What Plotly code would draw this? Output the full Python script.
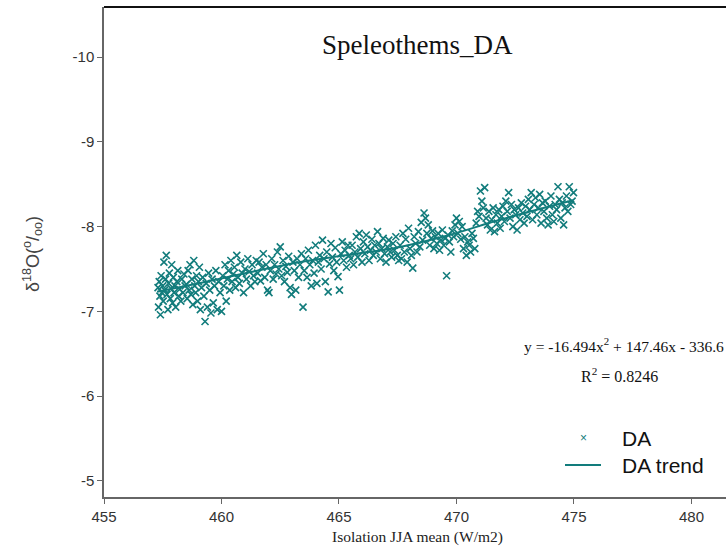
import plotly.graph_objects as go

# ---- data ----
da_x = [
    457.30, 457.32, 457.35, 457.38, 457.40, 457.43, 457.46, 457.50, 457.52, 457.55,
    457.58, 457.62, 457.65, 457.68, 457.72, 457.75, 457.78, 457.82, 457.85, 457.88,
    457.92, 457.95, 457.98, 458.02, 458.05, 458.10, 458.14, 458.18, 458.22, 458.27,
    458.31, 458.36, 458.40, 458.45,
    458.50, 458.54, 458.58, 458.62, 458.66, 458.70, 458.74, 458.78, 458.82, 458.86,
    458.90, 458.94, 458.98, 459.02, 459.06, 459.10, 459.15, 459.20, 459.25, 459.30,
    459.35, 459.40, 459.45, 459.50, 459.55, 459.60, 459.65, 459.70, 459.76, 459.82,
    459.88, 459.94,
    460.00, 460.05, 460.10, 460.15, 460.20, 460.25, 460.30, 460.35, 460.40, 460.45,
    460.50, 460.55, 460.60, 460.65, 460.70, 460.76, 460.82, 460.88, 460.94, 461.00,
    461.06, 461.12, 461.18, 461.24, 461.30, 461.36, 461.42, 461.48,
    461.54, 461.60, 461.66, 461.72, 461.78, 461.84, 461.90, 461.96, 462.02, 462.08,
    462.14, 462.20, 462.26, 462.32, 462.38, 462.44, 462.50, 462.56, 462.62, 462.68,
    462.74, 462.80, 462.86, 462.92, 462.98, 463.04, 463.10, 463.16, 463.22, 463.28,
    463.34, 463.40, 463.47, 463.52, 463.58, 463.64, 463.70, 463.76, 463.82, 463.88,
    463.94, 464.00, 464.06, 464.12, 464.18, 464.24, 464.30, 464.36, 464.42, 464.48,
    464.54, 464.60, 464.66, 464.72, 464.78, 464.84, 464.90, 464.96, 465.02, 465.08,
    465.14, 465.20, 465.26, 465.32, 465.38, 465.44,
    465.50, 465.56, 465.62, 465.68, 465.74, 465.80, 465.86, 465.92, 465.98, 466.04,
    466.10, 466.16, 466.22, 466.28, 466.34, 466.40, 466.46, 466.52, 466.58, 466.64,
    466.70, 466.76, 466.82, 466.88, 466.94, 467.00, 467.06, 467.12, 467.18, 467.24,
    467.30, 467.36, 467.42, 467.48, 467.54,
    467.60, 467.66, 467.72, 467.78, 467.84, 467.90, 467.96, 468.02, 468.08, 468.14,
    468.20, 468.26, 468.32, 468.38, 468.44, 468.50, 468.56, 468.62, 468.68, 468.74,
    468.80, 468.86, 468.92, 468.98, 469.04, 469.10, 469.16, 469.22, 469.28, 469.34,
    469.40, 469.46, 469.52, 469.58, 469.64,
    469.70, 469.76, 469.82, 469.88, 469.94, 470.00, 470.06, 470.12, 470.18, 470.24,
    470.30, 470.36, 470.42, 470.48, 470.54, 470.60, 470.66, 470.72, 470.78, 470.84,
    470.90, 470.96, 471.02, 471.08, 471.14, 471.20, 471.26, 471.32, 471.38, 471.44,
    471.50, 471.56, 471.62, 471.68, 471.74, 471.80, 471.86,
    471.92, 471.98, 472.04, 472.10, 472.16, 472.22, 472.28, 472.34, 472.40, 472.46,
    472.52, 472.58, 472.64, 472.70, 472.76, 472.82, 472.88, 472.94, 473.00, 473.06,
    473.12, 473.18, 473.24, 473.30, 473.36, 473.42, 473.48, 473.54, 473.60, 473.66,
    473.72, 473.78, 473.84, 473.90, 473.96, 474.02, 474.08, 474.14, 474.20, 474.26,
    474.32, 474.38, 474.44, 474.50, 474.56, 474.62, 474.68, 474.74, 474.80, 474.86,
    474.92, 474.98,
]

da_y = [
    -7.28, -7.05, -7.35, -7.18, -6.96, -7.42, -7.22, -7.30, -7.12, -7.58,
    -7.25, -7.38, -7.66, -7.20, -7.02, -7.33, -7.45, -7.15, -7.27, -7.55,
    -7.10, -7.40, -7.22, -7.30, -7.05, -7.35, -7.48, -7.18, -7.26, -7.12,
    -7.38, -7.22, -7.44, -7.30,
    -7.32, -7.15, -7.48, -7.25, -7.55, -7.20, -7.38, -7.08, -7.60, -7.30,
    -7.22, -7.42, -7.12, -7.35, -7.52, -7.02, -7.28, -7.40, -7.18, -6.88,
    -7.33, -7.05, -7.45, -7.25, -6.98, -7.38, -7.10, -7.30, -7.48, -7.02,
    -7.35, -7.22,
    -7.00, -7.42, -7.30, -7.55, -7.12, -7.38, -7.48, -7.25, -7.60, -7.35,
    -7.44, -7.52, -7.28, -7.66, -7.40, -7.33, -7.58, -7.45, -7.22, -7.50,
    -7.38, -7.62, -7.47, -7.30, -7.55, -7.42, -7.35, -7.60,
    -7.45, -7.58, -7.36, -7.52, -7.68, -7.40, -7.55, -7.25, -7.22, -7.48,
    -7.62, -7.38, -7.55, -7.44, -7.70, -7.50, -7.76, -7.42, -7.60, -7.35,
    -7.53, -7.46, -7.65, -7.28, -7.20, -7.58, -7.48, -7.25, -7.62, -7.40,
    -7.55, -7.68, -7.05, -7.48, -7.62, -7.40, -7.72, -7.55, -7.30, -7.60,
    -7.45, -7.78, -7.33, -7.58, -7.66, -7.50, -7.84, -7.62, -7.35, -7.70,
    -7.23, -7.56, -7.80, -7.64, -7.48, -7.75, -7.58, -7.41, -7.25, -7.68,
    -7.82, -7.60, -7.72, -7.52, -7.78, -7.66,
    -7.62, -7.78, -7.55, -7.70, -7.88, -7.64, -7.92, -7.74, -7.58, -7.82,
    -7.68, -7.90, -7.76, -7.60, -7.72, -7.85, -7.66, -7.78, -7.70, -7.94,
    -7.80, -7.62, -7.74, -7.86, -7.68, -7.58, -7.76, -7.84, -7.70, -7.64,
    -7.80, -7.72, -7.88, -7.66, -7.60,
    -7.78, -7.62, -7.92, -7.70, -7.85, -7.58, -7.98, -7.74, -7.66, -7.51,
    -7.88, -7.80, -7.70, -7.94, -7.76, -8.05, -7.84, -8.16, -8.10, -7.92,
    -8.02, -7.78, -7.86, -7.95, -7.74, -7.88, -7.80, -7.92, -7.72, -7.84,
    -7.96, -7.78, -7.86, -7.42, -7.90,
    -7.82, -7.70, -7.95, -7.88, -8.02, -8.10, -7.92, -8.06, -7.85, -8.00,
    -7.74, -7.88, -7.66, -7.82, -7.78, -7.70, -7.92, -7.86, -7.74, -8.04,
    -8.18, -8.12, -8.42, -8.30, -8.22, -8.46, -8.10, -8.02, -8.18, -7.96,
    -8.08, -8.22, -7.94, -8.14, -8.04, -8.20, -7.98,
    -8.12, -8.24, -8.06, -8.30, -8.18, -8.40, -8.10, -8.26, -8.00, -8.20,
    -8.14, -7.96, -8.22, -8.08, -8.28, -8.16, -8.04, -8.24, -8.12, -8.32,
    -8.20, -8.40, -8.08, -8.26, -8.34, -8.14, -8.22, -8.38, -8.04, -8.28,
    -8.18, -8.30, -8.10, -8.02, -8.24, -8.36, -8.14, -8.06, -8.26, -8.20,
    -8.47, -8.32, -8.10, -8.28, -8.02, -8.22, -8.36, -8.18, -8.47, -8.26,
    -8.30, -8.40,
]

trend_x = [457.26, 459.2, 461.2, 463.3, 465.5, 467.6, 469.7, 471.85, 474.96]
trend_y = [-7.23, -7.34, -7.46, -7.58, -7.67, -7.76, -7.90, -8.08, -8.31]

x_ticks = [455, 460, 465, 470, 475, 480]
y_ticks = [-10, -9, -8, -7, -6, -5]
y_tick_text = ["-10", "-9", "-8", "-7", "-6", "-5"]

title_text = "Speleothems_DA"
x_title = "Isolation JJA mean (W/m2)"
y_title = "δ<sup>18</sup>O(<sup>o</sup>/<sub>oo</sub>)"
eq_text = "y = -16.494x<sup>2</sup> + 147.46x - 336.6"
r2_text = "R<sup>2</sup> = 0.8246"
legend_names = ["DA", "DA trend"]

teal = "#127c7c"
sans = "Liberation Sans, Arial, sans-serif"
serif = "Liberation Serif, Times New Roman, serif"

# plot area in pixels: x 104..726, y 7..497
PL, PR, PT, PB = 104, 726, 7, 497
def px(xp):
    return (xp - PL) / (PR - PL)
def py(yp):
    return (PB - yp) / (PB - PT)

fig = go.Figure()
fig.add_trace(go.Scatter(
    x=da_x, y=da_y, mode="markers", name=legend_names[0], showlegend=False,
    marker=dict(symbol="x-thin", size=7, line=dict(width=1.6, color=teal), color=teal),
))
fig.add_trace(go.Scatter(
    x=trend_x, y=trend_y, mode="lines", name=legend_names[1], showlegend=False,
    line=dict(color=teal, width=2, shape="spline"),
))

axis_common = dict(showgrid=False, zeroline=False, showline=True, linecolor="#666",
                   linewidth=1.5, ticks="outside", ticklen=5, tickcolor="#666",
                   tickfont=dict(family=sans, size=15, color="#333"))

fig.update_layout(
    width=726, height=548,
    margin=dict(l=PL, r=0, t=PT, b=548 - PB),
    paper_bgcolor="white", plot_bgcolor="white",
    showlegend=False,
    xaxis=dict(range=[455, 481.47], tickvals=x_ticks, **axis_common),
    yaxis=dict(range=[-4.81, -10.59], tickvals=y_ticks, ticktext=y_tick_text, **axis_common),
    shapes=[
        dict(type="line", xref="paper", yref="paper", x0=0, x1=1.0, y0=1, y1=1,
             line=dict(color="#111", width=2)),
        # legend line sample
        dict(type="line", xref="paper", yref="paper", x0=px(565), x1=px(601),
             y0=py(465), y1=py(465), line=dict(color=teal, width=2)),
    ],
    annotations=[
        dict(text=title_text, x=px(418), y=py(45), xref="paper", yref="paper",
             xanchor="center", yanchor="middle",
             showarrow=False, font=dict(family=serif, size=27, color="#111")),
        dict(text=x_title, x=px(418), y=py(537), xref="paper", yref="paper",
             xanchor="center", yanchor="middle",
             showarrow=False, font=dict(family=serif, size=15.5, color="#222")),
        dict(text=y_title, x=px(32), y=py(254), xref="paper", yref="paper", textangle=-90,
             xanchor="center", yanchor="middle",
             showarrow=False, font=dict(family=sans, size=18, color="#444")),
        dict(text=eq_text, x=px(726), y=py(345), xref="paper", yref="paper",
             xanchor="right", yanchor="middle",
             showarrow=False, font=dict(family=serif, size=15.5, color="#111")),
        dict(text=r2_text, x=px(619), y=py(375), xref="paper", yref="paper",
             xanchor="center", yanchor="middle",
             showarrow=False, font=dict(family=serif, size=16, color="#111")),
        # legend
        dict(text="×", x=px(583), y=py(438), xref="paper", yref="paper",
             xanchor="center", yanchor="middle",
             showarrow=False, font=dict(family=sans, size=12, color=teal)),
        dict(text=legend_names[0], x=px(620), y=py(438), xref="paper", yref="paper",
             xanchor="left", yanchor="middle",
             showarrow=False, font=dict(family=sans, size=21, color="#111")),
        dict(text=legend_names[1], x=px(620), y=py(465), xref="paper", yref="paper",
             xanchor="left", yanchor="middle",
             showarrow=False, font=dict(family=sans, size=21, color="#111")),
    ],
)

fig.write_html("out.html")
